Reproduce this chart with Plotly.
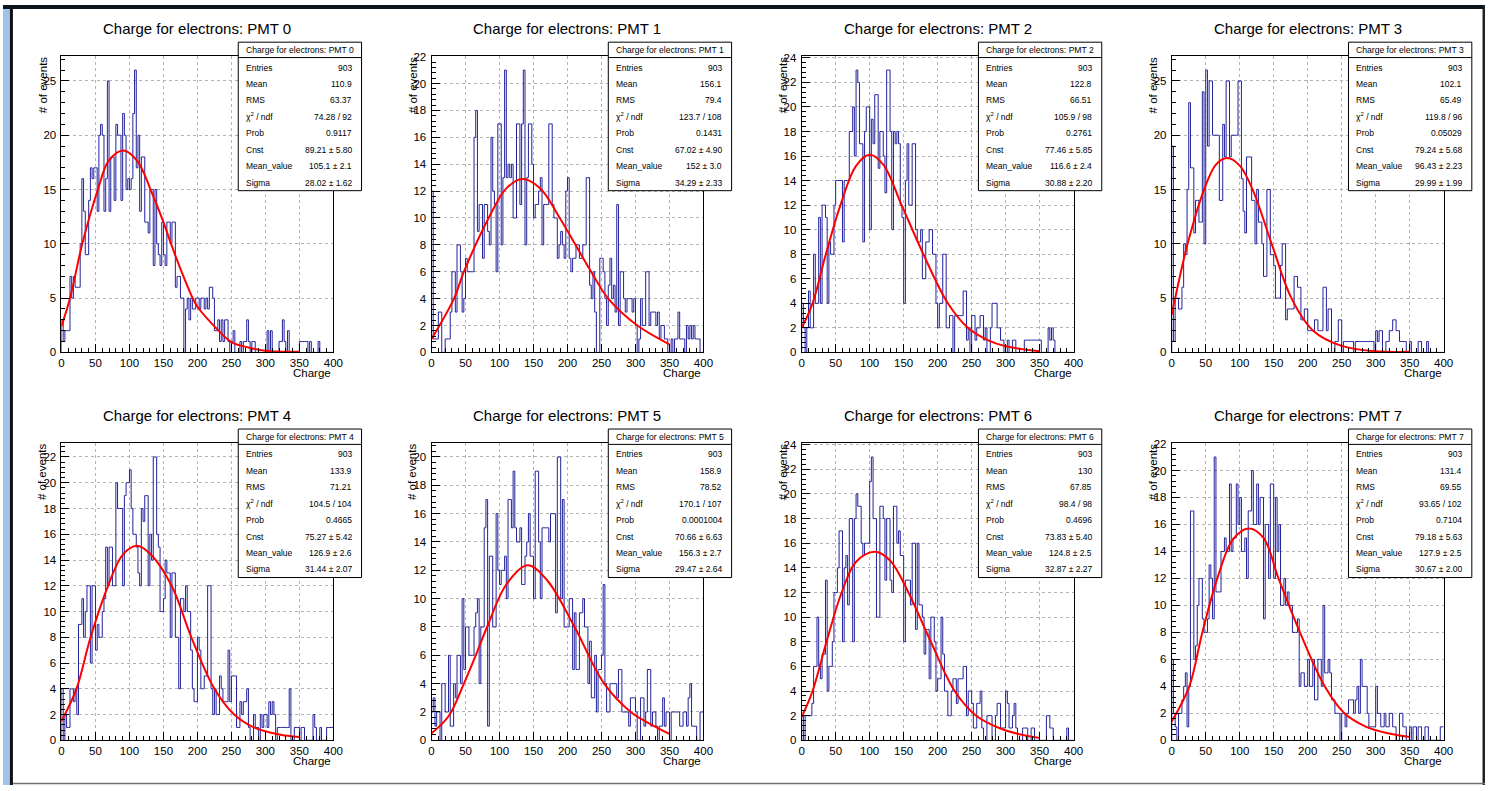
import numpy as np
import plotly.graph_objects as go

# ---------------- data ----------------
BIN_WIDTH = 2.5
X_MIN, X_MAX = 0, 400

pmt_titles = ["Charge for electrons: PMT %d" % i for i in range(8)]

counts_pmt0 = [3,1,2,2, 2,7,5,7, 6,6,6,10, 16,13,9,9, 14,17,16,17, 17,13,20,21, 20,13,16,25,
               13,18,18,14, 21,20,20,14, 22,20,15,16, 15,16,22,26, 17,20,13,18, 18,12,12,11,
               15,15,8,15, 10,9,8,12, 9,8,12,12, 10,12,12,6, 7,7,5,5, 0,4,5,3, 5,4,4,5, 5,4,5,5,
               4,5,4,6, 6,5,2,2, 3,1,3,1, 3,3,1,0, 1,2,0,0, 0,1,0,1, 1,3,1,0, 1,1,0,0, 0,0,0,0,
               0,2,0,2, 0,0,0,0, 1,1,3,1, 0,2,0,0, 0,0,0,0, 1,1,1,1, 1,0,1,0, 0,0,0,1, 0,0,0,0,
               0,0,0,0]
counts_pmt1 = [12,1,1,1, 3,3,0,0, 1,1,1,3, 6,6,3,8, 8,6,3,4, 7,6,6,6, 6,16,18,9, 11,11,7,11,
               11,9,8,16, 12,11,6,17, 17,8,13,21, 13,14,13,14, 10,10,17,17, 11,17,21,8,
               13,17,17,14, 10,11,11,12, 13,8,11,11, 11,17,17,11, 10,10,7,8, 9,8,7,12,
               13,7,6,7, 7,8,8,7, 7,8,8,13, 13,5,4,6, 3,0,0,7, 7,6,4,2, 5,7,4,5, 3,11,2,6,
               6,4,3,4, 4,4,3,4, 2,0,1,4, 2,2,6,6, 2,3,3,3, 2,3,1,2, 2,1,1,0, 0,1,0,1,
               1,3,1,1, 1,0,2,1, 2,1,2,1, 1,1,0,0]
counts_pmt2 = [4,2,0,2, 5,2,2,8, 4,4,11,4, 12,12,11,4, 9,8,8,12, 14,14,14,14, 9,14,14,14,
               18,18,20,16, 23,22,17,17, 9,18,20,20, 10,19,17,21, 21,15,18,18, 16,13,23,23,
               18,10,18,17, 18,17,12,11, 4,14,17,12, 12,17,17,10, 9,9,10,6, 6,9,9,10,
               10,8,8,4, 2,4,4,8, 8,2,2,3, 3,0,3,3, 3,3,3,5, 5,1,2,0, 3,3,1,2, 2,3,3,1,
               2,0,0,2, 4,4,4,2, 2,1,1,0, 0,1,0,0, 1,1,0,0, 0,0,0,1, 1,1,1,1, 1,1,1,1,
               1,0,0,0, 0,2,1,2, 1,0,0,0, 0,0,0,0, 0,0,0,0]
counts_pmt3 = [19,1,5,5, 4,4,6,10, 9,15,23,17, 17,11,14,14, 12,12,24,10, 26,19,25,25,
               20,20,20,20, 14,14,21,18, 25,25,18,20, 20,20,20,25, 25,16,13,11, 18,18,18,14,
               14,10,15,12, 12,10,7,7, 15,15,9,9, 8,5,5,5, 8,10,10,3, 4,4,4,4, 7,7,6,6,
               3,3,4,4, 2,2,2,2, 3,3,2,2, 2,6,6,2, 4,4,0,0, 1,1,3,3, 0,1,1,1, 1,1,1,0,
               1,1,1,1, 1,1,1,1, 1,1,1,0, 2,1,2,2, 0,0,1,1, 2,2,3,3, 2,2,1,1, 1,1,0,0,
               1,0,0,0, 0,1,1,0, 0,0,1,0, 0,0,0,0, 0,0,0,0]
counts_pmt4 = [4,0,2,1, 1,4,4,3, 4,2,9,9, 11,8,10,12, 12,6,12,12, 7,9,8,8, 10,11,15,12,
               15,15,12,12, 20,18,18,18, 12,19,20,20, 21,18,16,16, 15,13,12,18, 17,19,19,12,
               16,14,22,22, 16,15,10,10, 11,14,13,13, 8,13,13,8, 8,4,11,11, 10,12,10,10,
               7,4,3,3, 8,7,4,4, 5,5,12,12, 4,2,4,2, 2,5,4,3, 3,3,7,3, 5,5,5,1, 1,3,2,3,
               3,4,1,0, 0,2,1,1, 0,2,1,2, 2,1,3,2, 3,2,0,1, 1,1,1,1, 1,1,4,0, 0,1,1,1,
               0,1,1,0, 0,0,0,0, 2,1,0,0, 1,0,0,0, 1,1,1,1]
counts_pmt5 = [2,3,1,2, 2,0,4,4, 2,2,6,1, 1,4,3,6, 6,4,10,5, 8,8,6,6, 6,8,9,10, 4,8,8,15,
               17,1,13,13, 8,8,16,12, 11,12,12,13, 10,17,17,15, 19,15,14,14, 15,11,11,13,
               14,16,13,13, 10,19,19,14, 10,15,15,15, 15,14,16,16, 16,9,20,20, 10,17,8,8,
               8,10,10,5, 9,5,5,9, 9,10,8,8, 4,7,3,3, 6,2,5,5, 6,11,4,2, 2,4,4,4, 4,3,5,5,
               2,2,2,2, 1,3,3,3, 2,0,0,3, 3,1,2,5, 5,1,2,2, 1,0,1,1, 3,1,2,2, 0,2,2,2,
               2,2,1,1, 2,2,1,3, 4,1,1,1, 0,0,2,2]
counts_pmt6 = [2,0,2,2, 2,2,3,6, 6,10,6,5, 7,7,13,4, 6,6,8,12, 12,14,17,17, 8,14,15,11,
               18,18,8,18, 20,19,19,16, 15,16,16,16, 21,23,18,18, 10,10,19,19, 18,13,18,18,
               13,12,19,19, 16,17,15,15, 8,13,13,13, 11,16,16,9, 16,11,11,10, 7,9,9,5,
               10,10,8,4, 5,5,10,7, 4,4,2,2, 4,5,5,3, 5,5,5,6, 6,2,4,4, 3,1,1,3, 3,4,1,0,
               0,2,2,2, 0,0,2,3, 3,1,1,1, 4,3,1,1, 2,3,1,0, 0,0,1,1, 1,0,0,1, 1,0,0,0,
               0,0,0,0, 2,2,1,1, 0,0,0,0, 0,0,0,0, 1,0,0,0]
counts_pmt7 = [6,2,1,0, 2,2,3,4, 5,1,4,17, 17,6,7,10, 12,12,9,8, 8,9,13,12, 9,21,11,11,
               11,14,14,15, 14,14,19,14, 15,15,19,16, 18,14,14,15, 12,17,17,20, 16,16,19,16,
               18,18,9,16, 16,12,19,19, 12,18,14,16, 10,10,12,10, 11,10,10,8, 8,8,9,4,
               5,5,4,4, 6,4,4,6, 3,3,6,6, 4,10,5,5, 6,5,3,3, 2,2,2,0, 2,2,1,2, 3,3,3,2,
               3,4,2,6, 4,4,4,2, 1,1,1,1, 4,2,2,1, 1,2,1,1, 2,2,1,1, 0,0,2,2, 1,1,0,0,
               1,0,1,1, 0,1,1,0, 0,1,1,0, 0,0,0,0, 0,0,1,1]

# fitted curves
fit_x_pmt0 = [0, 12.6, 30.6, 53.5, 70, 91.4, 112, 131, 150, 160, 175, 193, 200, 225, 250, 275, 300, 350]
fit_y_pmt0 = [2.4, 5, 10, 15, 17.7, 18.6, 17.6, 15, 12, 10.2, 7.7, 5, 4.2, 2.4, 0.95, 0.45, 0.15, 0.05]
fit_x_pmt1 = [0, 33, 47.6, 84, 110, 133.7, 160, 188.6, 234.8, 260, 302.8, 350]
fit_y_pmt1 = [1.0, 4, 6, 10, 12.2, 12.9, 12.2, 10, 6, 4, 2, 0.6]
fit_x_pmt2 = [0, 16, 35.5, 57, 80, 100, 120, 147, 179, 215, 244.5, 273.6, 300, 350]
fit_y_pmt2 = [2.0, 4, 8, 12, 15.2, 16.1, 15.3, 12, 8, 4, 2, 1, 0.5, 0.1]
fit_x_pmt3 = [0, 5, 23.3, 47.6, 65, 81.7, 100, 119, 147, 176, 208, 250, 300, 350]
fit_y_pmt3 = [3.5, 5, 10, 15, 17.3, 17.9, 17.2, 15, 10, 5, 2, 0.6, 0.1, 0.05]
fit_x_pmt4 = [0, 22, 42.8, 68.5, 90, 110.8, 130, 162, 191, 225, 254, 283, 320, 350]
fit_y_pmt4 = [1.5, 4, 8, 12, 14.4, 15.1, 14.5, 12, 8, 4, 2, 1, 0.45, 0.25]
fit_x_pmt5 = [0, 25, 47.6, 65, 81.7, 110, 141, 170, 210.4, 254, 293, 320, 350]
fit_y_pmt5 = [0.5, 1.7, 4, 6, 8, 11, 12.35, 11.3, 8, 4, 2, 1.2, 0.45]
fit_x_pmt6 = [0, 16, 36.5, 58.8, 80, 107.4, 130, 157, 190, 225, 256.6, 290.6, 320, 350]
fit_y_pmt6 = [1.9, 4, 8, 12, 14.5, 15.3, 14.6, 12, 8, 4, 2, 1, 0.5, 0.2]
fit_x_pmt7 = [0, 25.8, 45, 67, 90, 113, 135, 157, 188.6, 225, 254, 286, 320, 350]
fit_y_pmt7 = [1.4, 4, 8, 12, 14.9, 15.7, 15, 12, 8, 4, 2, 1, 0.5, 0.25]

stat_labels = ["Entries", "Mean", "RMS", "\u03c7<sup>2</sup> / ndf", "Prob", "Cnst", "Mean_value", "Sigma"]
stats_pmt0 = ["903", "110.9", "63.37", "74.28 / 92", "0.9117", "89.21 \u00b1 5.80", "105.1 \u00b1 2.1", "28.02 \u00b1 1.62"]
stats_pmt1 = ["903", "156.1", "79.4", "123.7 / 108", "0.1431", "67.02 \u00b1 4.90", "152 \u00b1 3.0", "34.29 \u00b1 2.33"]
stats_pmt2 = ["903", "122.8", "66.51", "105.9 / 98", "0.2761", "77.46 \u00b1 5.85", "116.6 \u00b1 2.4", "30.88 \u00b1 2.20"]
stats_pmt3 = ["903", "102.1", "65.49", "119.8 / 96", "0.05029", "79.24 \u00b1 5.68", "96.43 \u00b1 2.23", "29.99 \u00b1 1.99"]
stats_pmt4 = ["903", "133.9", "71.21", "104.5 / 104", "0.4665", "75.27 \u00b1 5.42", "126.9 \u00b1 2.6", "31.44 \u00b1 2.07"]
stats_pmt5 = ["903", "158.9", "78.52", "170.1 / 107", "0.0001004", "70.66 \u00b1 6.63", "156.3 \u00b1 2.7", "29.47 \u00b1 2.64"]
stats_pmt6 = ["903", "130", "67.85", "98.4 / 98", "0.4696", "73.83 \u00b1 5.40", "124.8 \u00b1 2.5", "32.87 \u00b1 2.27"]
stats_pmt7 = ["903", "131.4", "69.55", "93.65 / 102", "0.7104", "79.18 \u00b1 5.63", "127.9 \u00b1 2.5", "30.67 \u00b1 2.00"]

y_max = [27.3, 22.05, 24.15, 27.3, 23.1, 21.0, 24.15, 22.05]
y_major = [5, 2, 2, 5, 2, 2, 2, 2]

all_counts = [counts_pmt0, counts_pmt1, counts_pmt2, counts_pmt3,
              counts_pmt4, counts_pmt5, counts_pmt6, counts_pmt7]
all_fit_x = [fit_x_pmt0, fit_x_pmt1, fit_x_pmt2, fit_x_pmt3,
             fit_x_pmt4, fit_x_pmt5, fit_x_pmt6, fit_x_pmt7]
all_fit_y = [fit_y_pmt0, fit_y_pmt1, fit_y_pmt2, fit_y_pmt3,
             fit_y_pmt4, fit_y_pmt5, fit_y_pmt6, fit_y_pmt7]
all_stats = [stats_pmt0, stats_pmt1, stats_pmt2, stats_pmt3,
             stats_pmt4, stats_pmt5, stats_pmt6, stats_pmt7]

# ---------------- layout geometry (pixels) ----------------
W, H = 1495, 791
FONT = "Liberation Sans, Arial, Helvetica, sans-serif"


def fx(px):
    return px / W


def fy(py):
    return 1 - py / H


col_left = [59, 432.3, 805.7, 1179]
plot_w = 274.3
row_top = [51.7, 444]
plot_h = [300.6, 301.7]

HIST_COLOR = "#22229c"
GRID = dict(showgrid=True, gridcolor="#b4b4b4", griddash="dot", gridwidth=1)

fig = go.Figure()
annotations = []
shapes = []

for k in range(8):
    r, c = divmod(k, 4)
    n = "" if k == 0 else str(k + 1)
    left = col_left[c]
    top = row_top[r]
    ph = plot_h[r]
    counts = np.asarray(all_counts[k], dtype=float)
    edges = X_MIN + BIN_WIDTH * np.arange(len(counts) + 1)
    xs = np.concatenate([[edges[0]], edges])
    ys = np.concatenate([[0.0], counts, [counts[-1]]])

    fig.add_trace(go.Scatter(x=xs, y=ys, mode="lines",
                             line=dict(color=HIST_COLOR, width=1, shape="hv"),
                             xaxis="x" + n, yaxis="y" + n, hoverinfo="skip",
                             showlegend=False))
    fig.add_trace(go.Scatter(x=all_fit_x[k], y=all_fit_y[k], mode="lines",
                             line=dict(color="#ff0000", width=2, shape="spline", smoothing=1.0),
                             xaxis="x" + n, yaxis="y" + n, hoverinfo="skip",
                             showlegend=False))

    fig.layout["xaxis" + n] = dict(
        domain=[fx(left), fx(left + plot_w)], anchor="y" + n, range=[X_MIN, X_MAX],
        tickmode="linear", tick0=0, dtick=50, ticks="inside", ticklen=8, tickcolor="black",
        minor=dict(dtick=10, ticks="inside", ticklen=4, tickcolor="black", showgrid=False),
        showline=True, linecolor="black", linewidth=1, mirror=True, zeroline=False,
        tickfont=dict(family=FONT, size=11.5, color="black"), fixedrange=True, **GRID)
    fig.layout["yaxis" + n] = dict(
        domain=[fy(top + ph), fy(top)], anchor="x" + n, range=[0, y_max[k]],
        tickmode="linear", tick0=0, dtick=y_major[k], ticks="inside", ticklen=8, tickcolor="black",
        minor=dict(dtick=y_major[k] / 5, ticks="inside", ticklen=4, tickcolor="black", showgrid=False),
        showline=True, linecolor="black", linewidth=1, mirror=True, zeroline=False,
        ticklabelstandoff=2,
        tickfont=dict(family=FONT, size=11.5, color="black"), fixedrange=True, **GRID)

    # pad title
    annotations.append(dict(text=pmt_titles[k], xref="paper", yref="paper",
                            x=fx(left + plot_w / 2), y=fy(top - 27.7), xanchor="center", yanchor="middle",
                            showarrow=False, font=dict(family=FONT, size=15, color="black")))
    # axis titles
    annotations.append(dict(text="Charge", xref="paper", yref="paper",
                            x=fx(left + plot_w), y=fy(top + ph + 21), xanchor="right", yanchor="middle",
                            showarrow=False, font=dict(family=FONT, size=11.5, color="black")))
    annotations.append(dict(text="# of events", xref="paper", yref="paper",
                            x=fx(left - 19), y=fy(top - 2), xanchor="center", yanchor="top",
                            textangle=-90, showarrow=False,
                            font=dict(family=FONT, size=11.5, color="black")))

    # stat box
    bx0 = left + plot_w - 96
    bx1 = bx0 + 124.4
    by0 = top - 14
    by1 = by0 + 150.6
    shapes.append(dict(type="rect", xref="paper", yref="paper",
                       x0=fx(bx0), x1=fx(bx1), y0=fy(by1), y1=fy(by0),
                       line=dict(color="black", width=1), fillcolor="white", layer="above"))
    shapes.append(dict(type="line", xref="paper", yref="paper",
                       x0=fx(bx0), x1=fx(bx1), y0=fy(by0 + 15.6), y1=fy(by0 + 15.6),
                       line=dict(color="black", width=1), layer="above"))
    annotations.append(dict(text=pmt_titles[k], xref="paper", yref="paper",
                            x=fx((bx0 + bx1) / 2), y=fy(by0 + 7.6), xanchor="center", yanchor="middle",
                            showarrow=False, font=dict(family=FONT, size=8.6, color="black")))
    for j, (lab, val) in enumerate(zip(stat_labels, all_stats[k])):
        yy = by0 + 25.8 + j * 16.65
        annotations.append(dict(text=lab, xref="paper", yref="paper",
                                x=fx(bx0 + 6), y=fy(yy), xanchor="left", yanchor="middle",
                                showarrow=False, font=dict(family=FONT, size=8.5, color="black")))
        annotations.append(dict(text=val, xref="paper", yref="paper",
                                x=fx(bx1 - 8), y=fy(yy), xanchor="right", yanchor="middle",
                                showarrow=False, font=dict(family=FONT, size=8.5, color="black")))

# window frame decorations
shapes.append(dict(type="rect", xref="paper", yref="paper", x0=fx(0), x1=fx(7), y0=0, y1=1,
                   line=dict(width=0), fillcolor="#9fc4e7", layer="below"))
shapes.append(dict(type="rect", xref="paper", yref="paper", x0=fx(7), x1=fx(10), y0=0, y1=1,
                   line=dict(width=0), fillcolor="#101010", layer="below"))
shapes.append(dict(type="rect", xref="paper", yref="paper", x0=0, x1=1, y0=fy(4), y1=1,
                   line=dict(width=0), fillcolor="#0b1520", layer="below"))
shapes.append(dict(type="rect", xref="paper", yref="paper", x0=fx(1492.5), x1=1, y0=0, y1=1,
                   line=dict(width=0), fillcolor="#202020", layer="below"))
shapes.append(dict(type="line", xref="paper", yref="paper", x0=fx(10), x1=1, y0=fy(789.5), y1=fy(789.5),
                   line=dict(color="#707070", width=1.5), layer="below"))

fig.update_layout(width=W, height=H, margin=dict(l=0, r=0, t=0, b=0),
                  paper_bgcolor="white", plot_bgcolor="white",
                  annotations=annotations, shapes=shapes, showlegend=False,
                  font=dict(family=FONT, color="black"))

fig.write_html("out.html", config={"displayModeBar": False},
               post_script="document.body.style.margin='0px';document.body.style.overflow='hidden';")
